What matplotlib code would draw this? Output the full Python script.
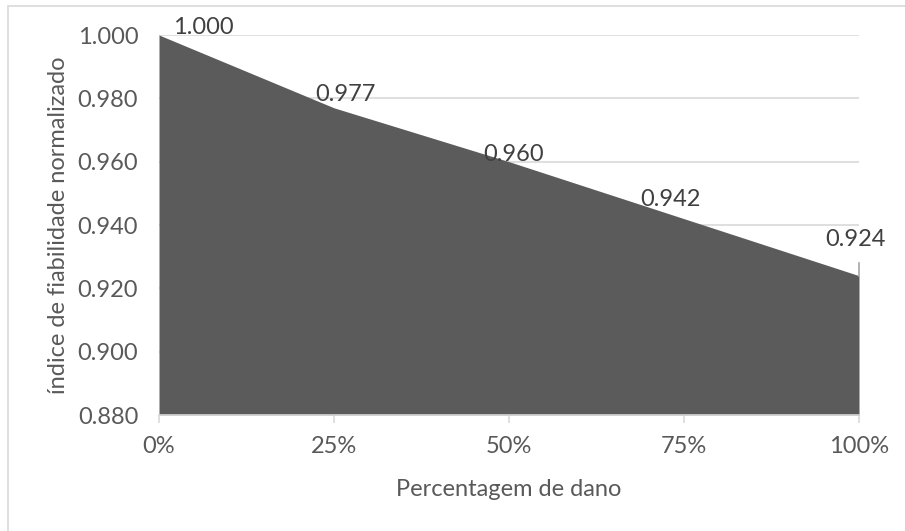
import matplotlib
matplotlib.use("Agg")
import matplotlib.pyplot as plt
from matplotlib.patches import Rectangle

# Data
damage_pct = [0, 25, 50, 75, 100]
reliability = [1.000, 0.977, 0.960, 0.942, 0.924]
x_tick_labels = ["0%", "25%", "50%", "75%", "100%"]
y_ticks = [0.880, 0.900, 0.920, 0.940, 0.960, 0.980, 1.000]
# Label offsets (pixels) relative to each point
label_offsets = [(44, 7), (11, 13), (5, 7), (-14, 19), (-4, 36)]

plt.rcParams['font.family'] = ['Lato', 'DejaVu Sans']
text_color = "#595959"
grid_color = "#d9d9d9"
fill_color = "#5b5b5b"
fs = 17

fig = plt.figure(figsize=(9.05, 5.31), dpi=100)
ax = fig.add_axes([159 / 905, 1 - 415 / 531, 700 / 905, 380 / 531])

ax.fill_between(damage_pct, reliability, y_ticks[0], color=fill_color, linewidth=0, zorder=2)
ax.set_xlim(0, 100)
ax.set_ylim(y_ticks[0], y_ticks[-1])
ax.set_yticks(y_ticks)
ax.set_yticklabels([f"{v:.3f}" for v in y_ticks])
ax.set_xticks(damage_pct)
ax.set_xticklabels(x_tick_labels)

ax.grid(axis='y', color=grid_color, linewidth=1.2, zorder=1)
ax.set_axisbelow(True)
for side in ['top', 'right', 'left']:
    ax.spines[side].set_visible(False)
ax.spines['bottom'].set_color(grid_color)
ax.spines['bottom'].set_linewidth(1.2)
ax.spines['bottom'].set_zorder(3)

ax.tick_params(axis='y', length=0, pad=15, labelsize=fs, labelcolor=text_color)
ax.tick_params(axis='x', length=6, width=1.2, color=grid_color, pad=9,
               labelsize=fs, labelcolor=text_color)

ax.set_xlabel("Percentagem de dano", fontsize=fs, color=text_color, labelpad=16)
ax.set_ylabel("índice de fiabilidade normalizado", fontsize=fs, color=text_color,
              va='center', ha='center')
ax.yaxis.set_label_coords(-0.143, 0.5)

for x, y, (dx, dy) in zip(damage_pct, reliability, label_offsets):
    ax.annotate(f"{y:.3f}", xy=(x, y), xytext=(dx, dy), textcoords='offset pixels',
                ha='center', va='center', fontsize=fs, color="#404040",
                annotation_clip=False, zorder=4)

# Marker line on the last point
ax.plot([100, 100], [reliability[-1], reliability[-1] + 0.004], color="#a6a6a6",
        linewidth=1.2, zorder=3, clip_on=False)

# Chart area frame
fig.patches.append(Rectangle((8 / 905, -0.1), 1.2, 1 - 6 / 531 + 0.1,
                             transform=fig.transFigure, fill=False,
                             edgecolor=grid_color, linewidth=1.2))

fig.savefig("out.png", dpi=100)
